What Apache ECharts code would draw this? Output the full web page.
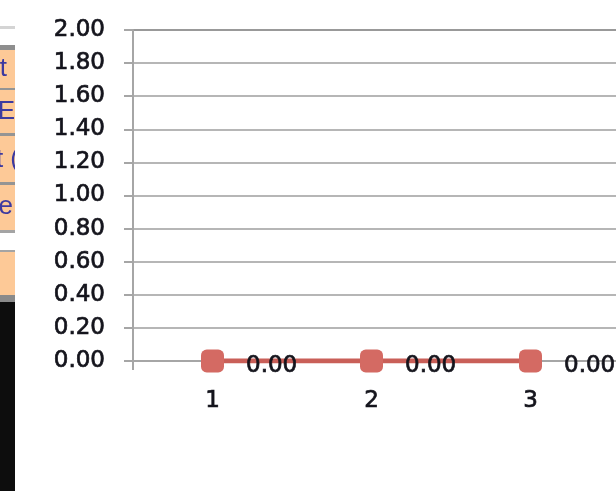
<!DOCTYPE html>
<html>
<head>
<meta charset="utf-8">
<script src="https://cdn.jsdelivr.net/npm/echarts@6/dist/echarts.min.js"></script>
<style>
  html, body { margin: 0; padding: 0; background: #ffffff; }
  #chart { width: 616px; height: 491px; }
</style>
</head>
<body>
<div id="chart"></div>
<script>
// Category names along the x axis (the last slot is an empty band)
const categories = ['1', '2', '3', ''];
// Series values, one per visible category
const values = [0, 0, 0];
// Value axis range and step
const yMin = 0;
const yMax = 2;
const yStep = 0.2;

const font = 'DejaVu Sans';
const inkColor = '#14141c';
// shared text look: regular weight, lightly thickened outline
const textLook = {
  fontFamily: font,
  fontSize: 23,
  color: inkColor,
  textBorderColor: inkColor,
  textBorderWidth: 0.7
};
const chart = echarts.init(document.getElementById('chart'), null, { renderer: 'canvas' });

// Side strip of the neighbouring worksheet: peach cells and a dark pane
const cellFill = '#fdc997';
const cellText = '#3d3aa0';
const cellFont = '26px "Liberation Sans"';
const strip = [
  { type: 'rect', shape: { x: 0, y: 26, width: 15, height: 3 }, style: { fill: '#d4d4d4' } },
  { type: 'rect', shape: { x: 0, y: 45, width: 15, height: 5 }, style: { fill: '#8e8e8e' } },
  { type: 'rect', shape: { x: 0, y: 50, width: 15, height: 38 }, style: { fill: cellFill } },
  { type: 'rect', shape: { x: 0, y: 88, width: 15, height: 2 }, style: { fill: '#949494' } },
  { type: 'rect', shape: { x: 0, y: 90, width: 15, height: 43 }, style: { fill: cellFill } },
  { type: 'rect', shape: { x: 0, y: 133, width: 15, height: 3 }, style: { fill: '#949494' } },
  { type: 'rect', shape: { x: 0, y: 136, width: 15, height: 46 }, style: { fill: cellFill } },
  { type: 'rect', shape: { x: 0, y: 182, width: 15, height: 3 }, style: { fill: '#949494' } },
  { type: 'rect', shape: { x: 0, y: 185, width: 15, height: 45 }, style: { fill: cellFill } },
  { type: 'rect', shape: { x: 0, y: 230, width: 15, height: 3 }, style: { fill: '#a4a4a4' } },
  { type: 'rect', shape: { x: 0, y: 250, width: 15, height: 2 }, style: { fill: '#a4a4a4' } },
  { type: 'rect', shape: { x: 0, y: 252, width: 15, height: 43 }, style: { fill: cellFill } },
  { type: 'rect', shape: { x: 0, y: 295, width: 15, height: 7 }, style: { fill: '#8a8a8a' } },
  { type: 'rect', shape: { x: 0, y: 302, width: 15, height: 189 }, style: { fill: '#0d0d0d' } },
  { type: 'text', x: 7, y: 69, style: { text: 't', font: cellFont, fill: cellText, align: 'right', verticalAlign: 'middle' } },
  { type: 'text', x: 15, y: 112, style: { text: 'E', font: cellFont, fill: cellText, align: 'right', verticalAlign: 'middle' } },
  { type: 'text', x: 19, y: 160, style: { text: 't (', font: cellFont, fill: cellText, align: 'right', verticalAlign: 'middle' } },
  { type: 'text', x: 13, y: 207, style: { text: 'te', font: cellFont, fill: cellText, align: 'right', verticalAlign: 'middle' } },
  // white margin between the strip and the chart
  { type: 'rect', shape: { x: 15, y: 0, width: 30, height: 491 }, style: { fill: '#ffffff' }, z: 10 }
];

// gridline colours from the bottom line up; the top one is a shade darker
const gridColors = Array(10).fill('#b6b6b6').concat(['#999999']);

chart.setOption({
  animation: false,
  backgroundColor: '#ffffff',
  graphic: { elements: strip },
  grid: { left: 133, top: 30, height: 331, width: 636, containLabel: false, outerBoundsMode: 'none' },
  xAxis: {
    type: 'category',
    data: categories,
    boundaryGap: true,
    axisLine: { show: true, lineStyle: { color: '#a6a6a6', width: 2 } },
    axisTick: {
      show: true,
      length: 9,
      interval: function (idx) { return idx === 0; },
      lineStyle: { color: '#a6a6a6', width: 2 }
    },
    axisLabel: Object.assign({ margin: 29 }, textLook),
    splitLine: { show: false }
  },
  yAxis: {
    type: 'value',
    min: yMin,
    max: yMax,
    interval: yStep,
    axisLine: { show: true, lineStyle: { color: '#a6a6a6', width: 2 } },
    axisTick: { show: true, length: 9, lineStyle: { color: '#a6a6a6', width: 2 } },
    axisLabel: Object.assign({
      margin: 28,
      padding: [4, 0, 0, 0],
      formatter: function (v) { return v.toFixed(2); }
    }, textLook),
    splitLine: { show: true, lineStyle: { color: gridColors, width: 2 } }
  },
  series: [{
    type: 'line',
    data: values,
    symbol: 'roundRect',
    symbolSize: 23,
    lineStyle: { color: '#c95f58', width: 5 },
    itemStyle: { color: '#d46a63' },
    label: Object.assign({
      show: true,
      position: 'right',
      distance: 22,
      offset: [0, 5],
      formatter: function (p) { return p.value.toFixed(2); }
    }, textLook)
  }]
});
</script>
</body>
</html>
